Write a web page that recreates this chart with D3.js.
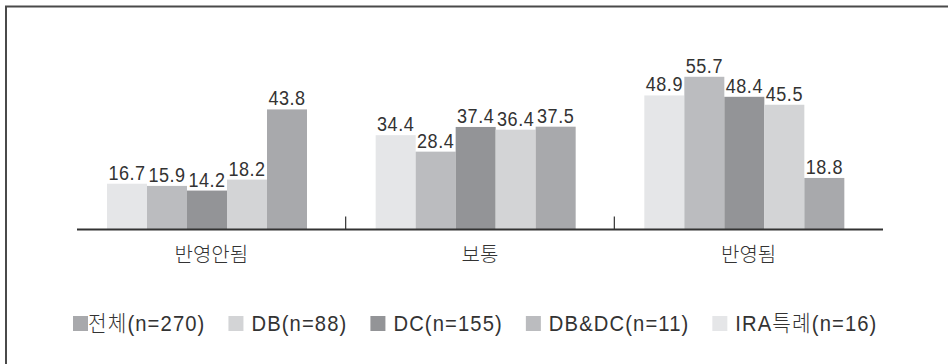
<!DOCTYPE html>
<html>
<head>
<meta charset="utf-8">
<script src="https://cdn.jsdelivr.net/npm/d3@7"></script>
<style>
  html, body { margin: 0; padding: 0; background: #fff; }
  svg { display: block; }
  .num { font-family: "Liberation Sans", Arial, sans-serif; }
  .kr  { font-family: "Liberation Sans", "Noto Sans CJK KR", sans-serif; font-weight: 300; }
</style>
</head>
<body>
<svg id="chart" width="948" height="364"></svg>
<script>
// Response categories (x groups)
const categories = ["반영안됨", "보통", "반영됨"];

// Respondent groups, in legend order
const seriesNames = ["전체(n=270)", "DB(n=88)", "DC(n=155)", "DB&DC(n=11)", "IRA특례(n=16)"];

// Percent values per respondent group, one per category
const totalValues = [16.7, 34.4, 48.9];
const dbValues    = [15.9, 28.4, 55.7];
const dcValues    = [14.2, 37.4, 48.4];
const dbdcValues  = [18.2, 36.4, 45.5];
const iraValues   = [43.8, 37.5, 18.8];

const seriesValues = [totalValues, dbValues, dcValues, dbdcValues, iraValues];

// Legend swatch shades; the bars use the same shades in reverse order
const legendColors = ["#a8a9ac", "#d3d4d6", "#939497", "#bbbcbf", "#e5e6e8"];
const barColors = legendColors.slice().reverse();

const yMax = 60;
const condense = 0.88;       // horizontal squeeze for the value labels
const legendCondense = 0.92; // horizontal squeeze for legend text

const svg = d3.select("#chart");

// Frame lines (top and left)
svg.append("line").attr("x1", 5).attr("y1", 6.5).attr("x2", 948).attr("y2", 6.5)
  .attr("stroke", "#4a4a4a").attr("stroke-width", 2);
svg.append("line").attr("x1", 6).attr("y1", 6).attr("x2", 6).attr("y2", 364)
  .attr("stroke", "#4a4a4a").attr("stroke-width", 2);

const x0 = d3.scaleBand().domain(categories).range([77, 883]).paddingInner(0).paddingOuter(0);
const x1 = d3.scaleBand().domain(seriesNames).range([30, 230]).padding(0);
const y = d3.scaleLinear().domain([0, yMax]).range([229.5, 65]);

const rows = categories.map((c, ci) => ({
  category: c,
  bars: seriesNames.map((s, si) => ({ series: s, si, value: seriesValues[si][ci] }))
}));

const groups = svg.append("g").selectAll("g.group")
  .data(rows).join("g")
  .attr("class", "group")
  .attr("transform", d => `translate(${x0(d.category)},0)`);

groups.selectAll("rect")
  .data(d => d.bars).join("rect")
  .attr("x", d => x1(d.series))
  .attr("width", x1.bandwidth())
  .attr("y", d => y(d.value))
  .attr("height", d => y(0) - y(d.value))
  .attr("fill", d => barColors[d.si]);

groups.selectAll("text.val")
  .data(d => d.bars).join("text")
  .attr("class", "val num")
  .attr("transform", d =>
    `translate(${x1(d.series) + x1.bandwidth() / 2},${y(d.value) - 4}) scale(${condense},1)`)
  .attr("text-anchor", "middle")
  .attr("font-size", 20.5)
  .attr("letter-spacing", 0.6)
  .attr("fill", "#333")
  .text(d => d.value.toFixed(1));

// Category axis
const axis = svg.append("g").attr("transform", `translate(0,${y(0)})`);
axis.append("line").attr("x1", x0.range()[0]).attr("x2", x0.range()[1])
  .attr("y1", 0).attr("y2", 0).attr("stroke", "#333").attr("stroke-width", 2);
axis.selectAll("line.tick")
  .data(categories.slice(1)).join("line")
  .attr("class", "tick")
  .attr("x1", d => x0(d)).attr("x2", d => x0(d))
  .attr("y1", 0).attr("y2", -13)
  .attr("stroke", "#333").attr("stroke-width", 1.2);
axis.selectAll("text.cat")
  .data(categories).join("text")
  .attr("class", "cat kr")
  .attr("x", d => x0(d) + x0.bandwidth() / 2)
  .attr("y", 32)
  .attr("text-anchor", "middle")
  .attr("font-size", 20)
  .attr("fill", "#333")
  .text(d => d);

// Legend
const legend = svg.append("g").attr("transform", "translate(73,0)");
let cursor = 0;
seriesNames.forEach((name, i) => {
  const item = legend.append("g").attr("transform", `translate(${cursor},0)`);
  item.append("rect").attr("x", 0).attr("y", 316).attr("width", 15).attr("height", 15)
    .attr("fill", legendColors[i]);
  const tx = i === 0 ? 15 : 23;
  const t = item.append("text")
    .attr("class", "kr")
    .attr("transform", `translate(${tx},331) scale(${legendCondense},1)`)
    .attr("font-size", 22)
    .attr("letter-spacing", 1.2)
    .attr("fill", "#333")
    .text(name);
  const w = t.node().getComputedTextLength() * legendCondense;
  cursor += tx + w + 23;
});
</script>
</body>
</html>
